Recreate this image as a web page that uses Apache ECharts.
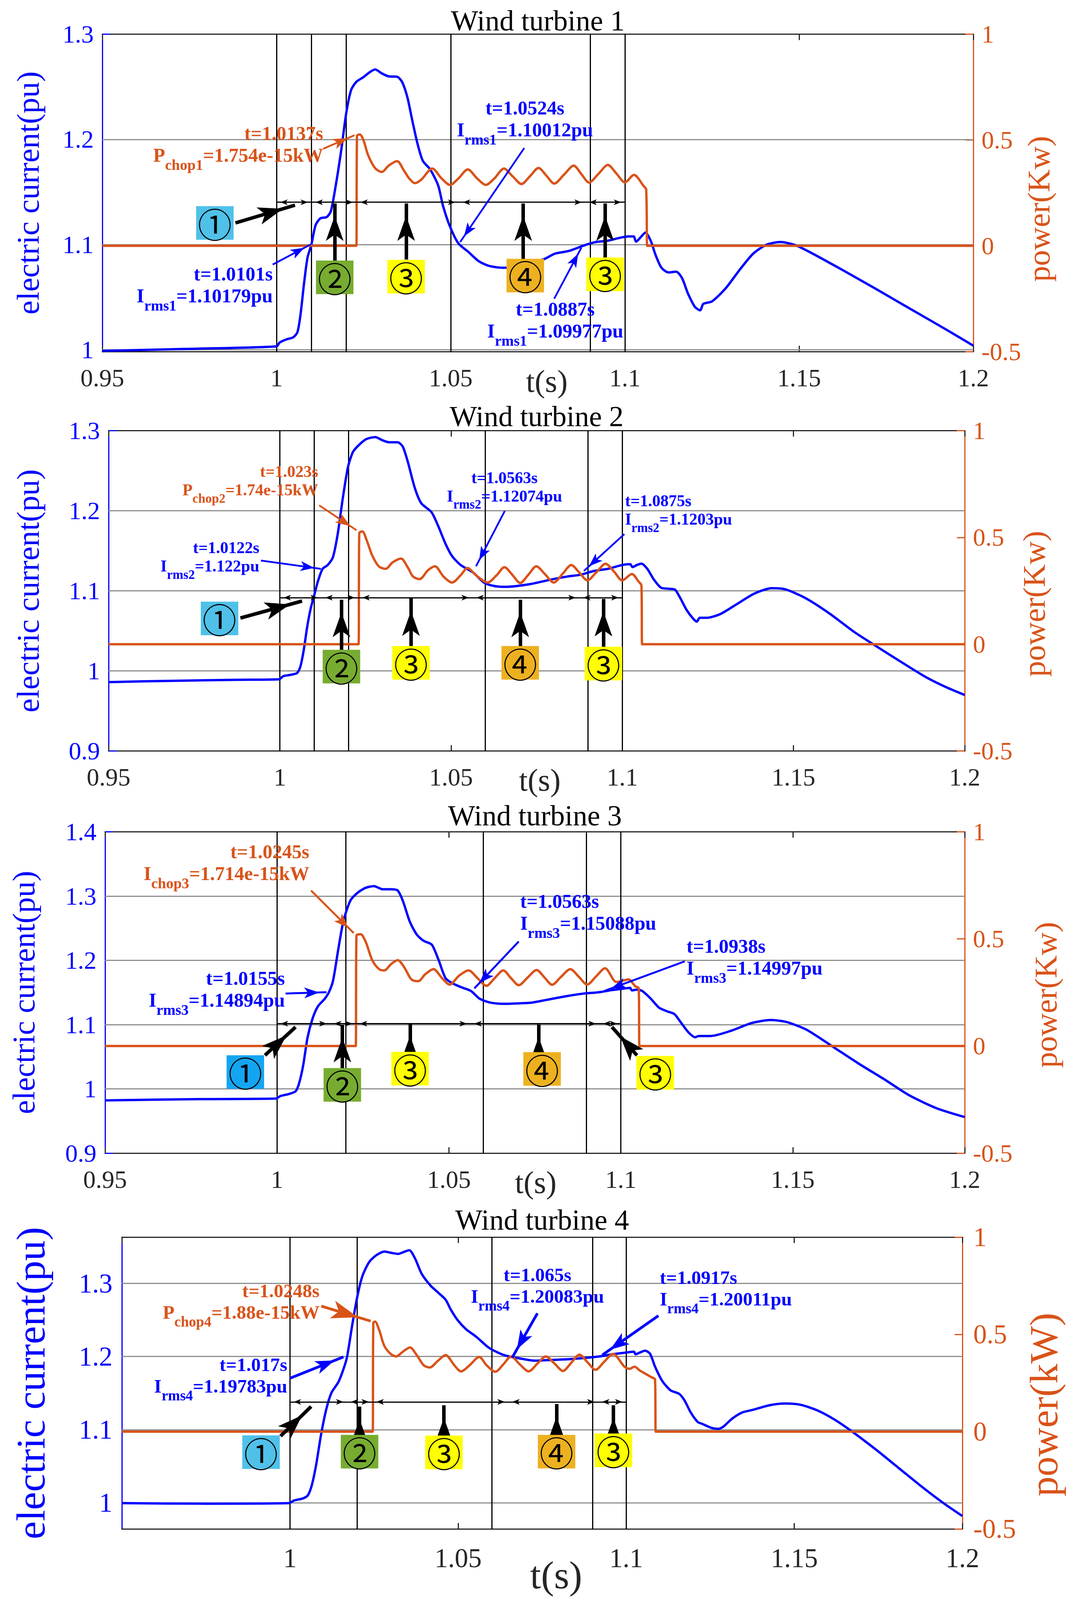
<!DOCTYPE html>
<html>
<head>
<meta charset="utf-8">
<title>Wind turbines</title>
<script src="https://cdn.jsdelivr.net/npm/echarts@6.0.0/dist/echarts.min.js"></script>
<style>
html,body{margin:0;padding:0;background:#ffffff;overflow:hidden;}
#chart{width:2737px;height:5428px;}
</style>
</head>
<body>
<div id="chart"></div>
<script>
// ================= DATA =================
const timeTicks = [0.95, 1, 1.05, 1.1, 1.15, 1.2];
const timeTicksWT4 = [1, 1.05, 1.1, 1.15, 1.2];
const powerTicks = [-0.5, 0, 0.5, 1];
const currentTicksWT1 = [1, 1.1, 1.2, 1.3];
const currentTicksWT2 = [0.9, 1, 1.1, 1.2, 1.3];
const currentTicksWT3 = [0.9, 1, 1.1, 1.2, 1.3, 1.4];
const currentTicksWT4 = [1, 1.1, 1.2, 1.3];

const panelTitles = ['Wind turbine 1', 'Wind turbine 2', 'Wind turbine 3', 'Wind turbine 4'];

// phase boundary instants (s)
const wt1Phases = [1.0, 1.0101, 1.023, 1.0524, 1.0887, 1.1];
const wt2Phases = [1.0, 1.0122, 1.023, 1.0563, 1.0875, 1.1];
const wt3Phases = [1.0, 1.0155, 1.023, 1.0563, 1.0938, 1.1];
const wt4Phases = [1.0, 1.017, 1.0246, 1.065, 1.0917, 1.1];

// rotor current (pu) : [t, I]
const wt1Current = [[0.95,0.999],[0.975,1.001],[1.0,1.0033],[1.0009,1.007],[1.0028,1.0099],[1.0048,1.0119],[1.006,1.0168],[1.0069,1.0339],[1.0079,1.0633],[1.0089,1.0878],[1.01,1.1],[1.0112,1.1184],[1.0126,1.125],[1.0144,1.1262],[1.0156,1.1318],[1.017,1.1563],[1.0185,1.1881],[1.02,1.2248],[1.0214,1.2469],[1.0229,1.2547],[1.0249,1.2591],[1.0268,1.264],[1.0283,1.2665],[1.0302,1.2628],[1.0322,1.2599],[1.0346,1.2596],[1.0361,1.2542],[1.0376,1.2395],[1.039,1.2175],[1.0405,1.1955],[1.042,1.1796],[1.0441,1.1715],[1.0464,1.1563],[1.0478,1.1367],[1.0498,1.1171],[1.0522,1.1012],[1.0552,1.0927],[1.0581,1.0841],[1.0611,1.0797],[1.065,1.078],[1.0705,1.0795],[1.074,1.0835],[1.077,1.0865],[1.0799,1.0914],[1.0838,1.0939],[1.0885,1.0995],[1.0917,1.1025],[1.0951,1.1037],[1.098,1.1061],[1.101,1.1078],[1.1025,1.1078],[1.1032,1.1029],[1.1046,1.1073],[1.1059,1.1115],[1.1074,1.1037],[1.1088,1.0902],[1.1105,1.078],[1.1125,1.0736],[1.1147,1.0743],[1.1164,1.0682],[1.1181,1.0535],[1.1201,1.0408],[1.1216,1.0376],[1.1225,1.0437],[1.125,1.0461],[1.1289,1.0584],[1.1328,1.0755],[1.1368,1.0914],[1.1407,1.1],[1.1446,1.1025],[1.1485,1.1],[1.1525,1.0939],[1.1623,1.0762],[1.1721,1.0578],[1.1819,1.039],[1.1917,1.0203],[1.2,1.004]];
const wt2Current = [[0.95,0.9861],[0.9681,0.9877],[0.988,0.989],[0.9998,0.9896],[1.001,0.9935],[1.003,0.9951],[1.005,0.9973],[1.006,1.0054],[1.007,1.0263],[1.008,1.0552],[1.009,1.0777],[1.01,1.0937],[1.0112,1.113],[1.0125,1.1275],[1.014,1.1323],[1.0155,1.1419],[1.0169,1.1708],[1.0184,1.2158],[1.0199,1.2544],[1.0214,1.2737],[1.0234,1.2833],[1.0254,1.2897],[1.0279,1.292],[1.0299,1.2881],[1.0319,1.2855],[1.0344,1.2855],[1.0359,1.2801],[1.0374,1.2608],[1.0394,1.2287],[1.0413,1.2094],[1.0443,1.1982],[1.0463,1.1805],[1.0483,1.1596],[1.0503,1.1435],[1.0528,1.1323],[1.0565,1.1227],[1.0598,1.1098],[1.0628,1.1059],[1.0658,1.105],[1.0728,1.1082],[1.0798,1.1146],[1.0838,1.1178],[1.0878,1.1201],[1.0918,1.1249],[1.0958,1.1275],[1.1,1.1323],[1.1023,1.1333],[1.103,1.1297],[1.1043,1.1323],[1.1056,1.1339],[1.1073,1.1275],[1.1093,1.1137],[1.1113,1.104],[1.1133,1.1027],[1.1153,1.1018],[1.1168,1.0921],[1.1188,1.0761],[1.1208,1.0648],[1.1218,1.0616],[1.1226,1.0664],[1.1248,1.0664],[1.1287,1.0712],[1.1337,1.0841],[1.1387,1.0969],[1.1437,1.1033],[1.1477,1.1018],[1.1537,1.0905],[1.1607,1.0712],[1.1677,1.0488],[1.1747,1.0295],[1.1816,1.0108],[1.1886,0.9925],[1.1946,0.9797],[1.2,0.97]];
const wt3Current = [[0.95,0.9821],[0.9787,0.9841],[0.9997,0.9849],[1.001,0.9889],[1.0035,0.9921],[1.0054,0.9962],[1.0064,1.0082],[1.0076,1.0362],[1.0089,1.0803],[1.0104,1.1103],[1.0119,1.1284],[1.0139,1.1404],[1.0151,1.1504],[1.0163,1.1684],[1.0178,1.2165],[1.0193,1.2606],[1.0213,1.2926],[1.0233,1.3046],[1.0257,1.3127],[1.0282,1.3155],[1.0307,1.3107],[1.0332,1.3107],[1.0351,1.3087],[1.0366,1.2926],[1.0386,1.2606],[1.0406,1.2405],[1.0426,1.2305],[1.045,1.2245],[1.047,1.2005],[1.049,1.1724],[1.051,1.1644],[1.0535,1.1584],[1.0564,1.1524],[1.0589,1.1404],[1.0619,1.1344],[1.0658,1.1324],[1.0708,1.1332],[1.0743,1.1344],[1.0783,1.1384],[1.0843,1.1444],[1.0893,1.1484],[1.0937,1.1504],[1.0972,1.1536],[1.1012,1.1564],[1.1027,1.1572],[1.1032,1.1532],[1.1047,1.1544],[1.1062,1.1524],[1.1087,1.1404],[1.1111,1.1264],[1.1136,1.1204],[1.1156,1.1163],[1.1176,1.1023],[1.1196,1.0883],[1.1216,1.0803],[1.1226,1.0823],[1.1261,1.0823],[1.132,1.0903],[1.138,1.1023],[1.1435,1.1071],[1.148,1.1043],[1.1539,1.0923],[1.1609,1.0683],[1.1689,1.0402],[1.1768,1.0142],[1.1838,0.9902],[1.1917,0.9701],[1.2,0.9561]];
const wt4Current = [[0.95,0.9993],[0.9748,0.9986],[0.9997,0.9993],[1.0012,1.0029],[1.0038,1.0057],[1.0053,1.0099],[1.0065,1.024],[1.0078,1.0522],[1.0093,1.0945],[1.0109,1.1297],[1.0124,1.1509],[1.0144,1.165],[1.0159,1.1826],[1.017,1.2],[1.0185,1.2425],[1.02,1.2813],[1.0215,1.3095],[1.0235,1.3289],[1.0256,1.3384],[1.0281,1.3437],[1.0301,1.3419],[1.0322,1.3405],[1.0342,1.3437],[1.0355,1.3455],[1.0372,1.3342],[1.0392,1.313],[1.0418,1.2972],[1.0443,1.2866],[1.0463,1.2778],[1.0479,1.2637],[1.0499,1.2496],[1.0524,1.2373],[1.0555,1.2267],[1.059,1.2126],[1.0626,1.2039],[1.0653,1.2],[1.0692,1.1967],[1.0727,1.1943],[1.0777,1.1953],[1.0838,1.1967],[1.0888,1.1985],[1.0922,1.2002],[1.0959,1.2031],[1.1,1.2055],[1.1023,1.2066],[1.1028,1.2031],[1.1041,1.2055],[1.1056,1.208],[1.1071,1.2038],[1.1086,1.1861],[1.1107,1.1668],[1.1132,1.1537],[1.1157,1.1491],[1.1173,1.1403],[1.1193,1.1227],[1.1213,1.1104],[1.1226,1.1079],[1.1254,1.1023],[1.1274,1.1009],[1.1289,1.104],[1.1315,1.1149],[1.1345,1.1234],[1.1376,1.1269],[1.1426,1.1333],[1.1472,1.1357],[1.1518,1.134],[1.1569,1.1262],[1.1619,1.1139],[1.167,1.098],[1.1741,1.0733],[1.1812,1.0469],[1.1883,1.0205],[1.1944,0.9993],[1.2,0.9817]];

// chopper power (kW) : [t, P]
const wt1Power = [[0.95,0],[1.0225,0],[1.0229,0],[1.0231,0.52],[1.0239,0.526],[1.0249,0.502],[1.0263,0.428],[1.0283,0.367],[1.0302,0.349],[1.0322,0.379],[1.0346,0.4],[1.0366,0.355],[1.0381,0.318],[1.0397,0.296],[1.0415,0.312],[1.0447,0.365],[1.0474,0.318],[1.0498,0.288],[1.0522,0.318],[1.0549,0.361],[1.0576,0.318],[1.0601,0.288],[1.0625,0.318],[1.0653,0.365],[1.0678,0.328],[1.0703,0.292],[1.0728,0.33],[1.0752,0.368],[1.0775,0.331],[1.0797,0.294],[1.0825,0.336],[1.0853,0.379],[1.0875,0.339],[1.0897,0.299],[1.0924,0.34],[1.0951,0.382],[1.0976,0.341],[1.1,0.3],[1.1026,0.335],[1.1054,0.282],[1.1061,0.267],[1.1064,0],[1.1068,0],[1.2,0]];
const wt2Power = [[0.95,0],[1.0226,0],[1.023,0],[1.0232,0.52],[1.0241,0.528],[1.0254,0.486],[1.0269,0.419],[1.0289,0.365],[1.0309,0.353],[1.0329,0.383],[1.0354,0.401],[1.0374,0.359],[1.0389,0.317],[1.0408,0.305],[1.0433,0.347],[1.0453,0.365],[1.0478,0.317],[1.0503,0.289],[1.0528,0.323],[1.0548,0.357],[1.0573,0.323],[1.0607,0.289],[1.0633,0.323],[1.0656,0.361],[1.0679,0.325],[1.0702,0.287],[1.0726,0.326],[1.0749,0.365],[1.0775,0.327],[1.08,0.289],[1.0826,0.33],[1.0851,0.371],[1.0875,0.335],[1.0898,0.299],[1.0925,0.338],[1.0951,0.377],[1.0976,0.34],[1.1,0.299],[1.1028,0.329],[1.1048,0.293],[1.1056,0.275],[1.1058,0],[1.1062,0],[1.2,0]];
const wt3Power = [[0.95,0],[1.0225,0],[1.0229,0],[1.0231,0.515],[1.0243,0.522],[1.0258,0.486],[1.0277,0.401],[1.0297,0.359],[1.0312,0.353],[1.0332,0.383],[1.0351,0.401],[1.0371,0.365],[1.0391,0.311],[1.0411,0.303],[1.0431,0.335],[1.0455,0.359],[1.048,0.317],[1.0502,0.287],[1.053,0.329],[1.0557,0.353],[1.0583,0.317],[1.0609,0.281],[1.0633,0.317],[1.0658,0.353],[1.068,0.318],[1.0703,0.284],[1.0729,0.32],[1.0755,0.355],[1.0778,0.32],[1.08,0.286],[1.0826,0.323],[1.0853,0.359],[1.0878,0.323],[1.0902,0.287],[1.0928,0.325],[1.0954,0.363],[1.0987,0.299],[1.1005,0.305],[1.1022,0.311],[1.1042,0.279],[1.1052,0.27],[1.1054,0],[1.1058,0],[1.2,0]];
const wt4Power = [[0.95,0],[1.0242,0],[1.0246,0],[1.0248,0.56],[1.0253,0.566],[1.0266,0.519],[1.0281,0.44],[1.0301,0.398],[1.0316,0.387],[1.0337,0.413],[1.0357,0.433],[1.0377,0.394],[1.0398,0.341],[1.0416,0.33],[1.0438,0.361],[1.0463,0.394],[1.0489,0.341],[1.0509,0.31],[1.0534,0.341],[1.0563,0.384],[1.0585,0.341],[1.0611,0.308],[1.0634,0.345],[1.0658,0.387],[1.0684,0.345],[1.071,0.31],[1.0736,0.35],[1.0761,0.387],[1.0787,0.35],[1.0812,0.312],[1.0837,0.355],[1.0861,0.396],[1.0885,0.357],[1.0909,0.318],[1.0935,0.36],[1.0961,0.4],[1.0995,0.334],[1.101,0.323],[1.1025,0.334],[1.1041,0.314],[1.1061,0.294],[1.1075,0.28],[1.1086,0.268],[1.1088,0],[1.1092,0],[1.2,0]];

// annotation texts (two lines each; anchored in data units of the current axis)
const wt1Notes = [
 {c:'o', a:'right', t:1.0134, i:[1.2035,1.1850], l1:'t=1.0137s', m:'P', sub:'chop1', s:'=1.754e-15kW'},
 {c:'b', a:'right', t:0.9989, i:[1.0706,1.0510], l1:'t=1.0101s', m:'I', sub:'rms1', s:'=1.10179pu'},
 {c:'b', a:'center', t:1.0713, i:[1.2285,1.2089], l1:'t=1.0524s', m:'I', sub:'rms1', s:'=1.10012pu'},
 {c:'b', a:'center', t:1.0800, i:[1.0364,1.0180], l1:'t=1.0887s', m:'I', sub:'rms1', s:'=1.09977pu'}
];
const wt2Notes = [
 {c:'o', a:'right', t:1.0112, i:[1.2470,1.2255], l1:'t=1.023s', m:'P', sub:'chop2', s:'=1.74e-15kW'},
 {c:'b', a:'right', t:0.9940, i:[1.1516,1.1307], l1:'t=1.0122s', m:'I', sub:'rms2', s:'=1.122pu'},
 {c:'b', a:'center', t:1.0656, i:[1.2399,1.2174], l1:'t=1.0563s', m:'I', sub:'rms2', s:'=1.12074pu'},
 {c:'b', a:'left', t:1.1008, i:[1.2110,1.1885], l1:'t=1.0875s', m:'I', sub:'rms2', s:'=1.1203pu'}
];
const wt3Notes = [
 {c:'o', a:'right', t:1.0094, i:[1.3667,1.3347], l1:'t=1.0245s', m:'I', sub:'chop3', s:'=1.714e-15kW'},
 {c:'b', a:'right', t:1.0023, i:[1.1684,1.1384], l1:'t=1.0155s', m:'I', sub:'rms3', s:'=1.14894pu'},
 {c:'b', a:'left', t:1.0707, i:[1.2886,1.2574], l1:'t=1.0563s', m:'I', sub:'rms3', s:'=1.15088pu'},
 {c:'b', a:'left', t:1.1191, i:[1.2185,1.1877], l1:'t=1.0938s', m:'I', sub:'rms3', s:'=1.14997pu'}
];
const wt4Notes = [
 {c:'o', a:'right', t:1.0088, i:[1.2866,1.2602], l1:'t=1.0248s', m:'P', sub:'chop4', s:'=1.88e-15kW'},
 {c:'b', a:'right', t:0.9992, i:[1.1854,1.1597], l1:'t=1.017s', m:'I', sub:'rms4', s:'=1.19783pu'},
 {c:'b', a:'center', t:1.0736, i:[1.3078,1.2831], l1:'t=1.065s', m:'I', sub:'rms4', s:'=1.20083pu'},
 {c:'b', a:'left', t:1.1100, i:[1.3053,1.2785], l1:'t=1.0917s', m:'I', sub:'rms4', s:'=1.20011pu'}
];

// pointer arrows of the annotations [t, I]
const wt1Pointers = [
 {c:'o', from:[1.0134,1.1911], to:[1.0224,1.2040]},
 {c:'b', from:[0.9989,1.0811], to:[1.0097,1.1000]},
 {c:'b', from:[1.0711,1.1918], to:[1.0527,1.1024]},
 {c:'b', from:[1.0797,1.0486], to:[1.0875,1.0971]}
];
const wt2Pointers = [
 {c:'o', from:[1.0115,1.2068], to:[1.0224,1.1757]},
 {c:'b', from:[0.9945,1.1378], to:[1.0120,1.1275]},
 {c:'b', from:[1.0657,1.1998], to:[1.0573,1.1307]},
 {c:'b', from:[1.1006,1.1708], to:[1.0888,1.1249]}
];
const wt3Pointers = [
 {c:'o', from:[1.0099,1.3087], to:[1.0223,1.2425]},
 {c:'b', from:[1.0025,1.1484], to:[1.0144,1.1504]},
 {c:'b', from:[1.0703,1.2293], to:[1.0574,1.1564]},
 {c:'b', from:[1.1186,1.1985], to:[1.0952,1.1524]}
];
const wt4Pointers = [
 {c:'o', from:[1.0093,1.2690], to:[1.0240,1.2485]},
 {c:'b', from:[1.0000,1.1703], to:[1.0159,1.1995]},
 {c:'b', from:[1.0736,1.2592], to:[1.0661,1.1985]},
 {c:'b', from:[1.1096,1.2559], to:[1.0929,1.2020]}
];

// stage boxes
const wt1Stages = [
 {n:'①', c:'#4FC1E9', at:[0.9823,1.1206], from:[0.9882,1.1206], to:[1.0053,1.1375]},
 {n:'②', c:'#77AC30', at:[1.0167,1.0689], from:[1.0167,1.0848], to:[1.0167,1.1392]},
 {n:'③', c:'#FFFF00', at:[1.0372,1.0696], from:[1.0372,1.0858], to:[1.0372,1.1392]},
 {n:'④', c:'#EDB120', at:[1.0714,1.0706], from:[1.0708,1.0848], to:[1.0708,1.1392]},
 {n:'③', c:'#FFFF00', at:[1.0943,1.0718], from:[1.0943,1.0878], to:[1.0943,1.1392]}
];
const wt2Stages = [
 {n:'①', c:'#4FC1E9', at:[0.9824,1.0655], from:[0.9885,1.0661], to:[1.0065,1.0873]},
 {n:'②', c:'#77AC30', at:[1.0180,1.0054], from:[1.0180,1.0263], to:[1.0180,1.0889]},
 {n:'③', c:'#FFFF00', at:[1.0383,1.0102], from:[1.0383,1.0311], to:[1.0383,1.0905]},
 {n:'④', c:'#EDB120', at:[1.0702,1.0102], from:[1.0702,1.0311], to:[1.0702,1.0889]},
 {n:'③', c:'#FFFF00', at:[1.0945,1.0092], from:[1.0945,1.0301], to:[1.0945,1.0899]}
];
const wt3Stages = [
 {n:'①', c:'#14A5F2', at:[0.9908,1.0262], from:[0.9965,1.0522], to:[1.0054,1.0963]},
 {n:'②', c:'#77AC30', at:[1.0190,1.0062], from:[1.0190,1.0322], to:[1.0190,1.0995]},
 {n:'③', c:'#FFFF00', at:[1.0387,1.0314], from:[1.0387,1.0582], to:[1.0387,1.1023]},
 {n:'④', c:'#EDB120', at:[1.0771,1.0310], from:[1.0761,1.0582], to:[1.0761,1.1003]},
 {n:'③', c:'#FFFF00', at:[1.1100,1.0250], from:[1.1047,1.0522], to:[1.0974,1.0963]}
];
const wt4Stages = [
 {n:'①', c:'#4FC1E9', at:[0.9914,1.0691], from:[0.9972,1.0910], to:[1.0063,1.1315]},
 {n:'②', c:'#77AC30', at:[1.0207,1.0698], from:[1.0207,1.0927], to:[1.0207,1.1315]},
 {n:'③', c:'#FFFF00', at:[1.0458,1.0688], from:[1.0458,1.0910], to:[1.0458,1.1333]},
 {n:'④', c:'#EDB120', at:[1.0793,1.0698], from:[1.0793,1.0927], to:[1.0793,1.1350]},
 {n:'③', c:'#FFFF00', at:[1.0962,1.0716], from:[1.0962,1.0945], to:[1.0962,1.1333]}
];
const stageSpanLevel = [1.1403, 1.0915, 1.1015, 1.1379];

// ================= STYLE / LAYOUT =================
const BLUE = '#0000FF', ORANGE = '#D95319', INK = '#262626', GRIDC = '#8f8f8f';
const SERIF = '"Liberation Serif", "Times New Roman", serif';
const fmt = v => String(parseFloat(Number(v).toFixed(3)));

// layout designed for a 2737 x 5428 page; a shorter viewport compresses it vertically
const PAGE_W = 2737, PAGE_H = 5428;
const VIEW_H = window.innerHeight || PAGE_H;
const SY = Math.min(1, VIEW_H / PAGE_H);
const SF = Math.sqrt(SY);
const SR = Math.pow(SY, 0.75);
const Y = v => v * SY;                 // vertical distances
const F = v => Math.round(v * SF);     // font / symbol sizes
const R = v => Math.round(v * SR);     // fonts of texts laid out vertically

const panels = [
 {box:[262,116,2230,1077], titleY:70, cur:wt1Current, pow:wt1Power, yMin:0.9983, yMax:1.3, yTicks:currentTicksWT1, yGrid:[1,1.1,1.2], xTicks:timeTicks,
  phases:wt1Phases, notes:wt1Notes, pointers:wt1Pointers, stages:wt1Stages, rightName:'power(Kw)',
  tickFont:74, nameFont:100, rNameFont:100, xNameFont:92, leftGap:140, rightGap:118, rightShift:54, xGap:48, xShift:23, xMargin:35, yMargin:22, rMargin:21, noteFont:58, subFont:44, ptrW:4.5, ptrHead:[22,40], oHead:[24,44]},
 {box:[278,1461,2192,1087], titleY:1412, cur:wt2Current, pow:wt2Power, yMin:0.9, yMax:1.3, yTicks:currentTicksWT2, yGrid:[1,1.1,1.2], xTicks:timeTicks,
  phases:wt2Phases, notes:wt2Notes, pointers:wt2Pointers, stages:wt2Stages, rightName:'power(Kw)',
  tickFont:74, nameFont:100, rNameFont:100, xNameFont:92, leftGap:156, rightGap:128, rightShift:44, xGap:46, xShift:8, xMargin:35, yMargin:22, rMargin:21, noteFont:48, subFont:38, ptrW:4.5, ptrHead:[22,40], oHead:[24,44]},
 {box:[269,2822,2201,1090], titleY:2767, cur:wt3Current, pow:wt3Power, yMin:0.9, yMax:1.4, yTicks:currentTicksWT3, yGrid:[1,1.1,1.2,1.3], xTicks:timeTicks,
  phases:wt3Phases, notes:wt3Notes, pointers:wt3Pointers, stages:wt3Stages, rightName:'power(Kw)',
  tickFont:74, nameFont:100, rNameFont:100, xNameFont:92, leftGap:158, rightGap:158, rightShift:8, xGap:47, xShift:2, xMargin:35, yMargin:22, rMargin:21, noteFont:58, subFont:44, ptrW:5, ptrHead:[24,44], oHead:[24,44]},
 {box:[312,4197,2152,990], titleY:4139, cur:wt4Current, pow:wt4Power, yMin:0.964, yMax:1.3634, yTicks:currentTicksWT4, yGrid:[1,1.1,1.2,1.3], xTicks:timeTicksWT4,
  phases:wt4Phases, notes:wt4Notes, pointers:wt4Pointers, stages:wt4Stages, rightName:'power(kW)',
  tickFont:80, nameFont:128, rNameFont:126, xNameFont:115, leftGap:170, rightGap:145, rightShift:73, xGap:90, xShift:36, xMargin:40, yMargin:24, rMargin:28, noteFont:56, subFont:43, ptrW:7, ptrHead:[30,56], oHead:[40,78]}
];

// ================= BUILD =================
const el = document.getElementById('chart');
const CH = Math.floor(PAGE_H * SY);
el.style.height = CH + 'px';
const chart = echarts.init(el, null, {renderer:'svg', width:PAGE_W, height:CH});
const option = {animation:false, backgroundColor:'#ffffff', textStyle:{fontFamily:SERIF},
  graphic:[], grid:[], xAxis:[], yAxis:[], series:[]};

function axisLine(c){ return {show:true, onZero:false, lineStyle:{color:c, width:3}}; }
function carrier(k, z, extra){
  return Object.assign({type:'line', xAxisIndex:2*k, yAxisIndex:2*k, data:[], silent:true, z:z, showSymbol:false}, extra);
}
// one arrow item for markLine: tip exactly at "to"
function arrowItem(from, to, head0, both){
  const head = [F(head0[0]), F(head0[1])];
  const end = {coord:to, symbol:'arrow', symbolSize:head, symbolOffset:[0, head[1]/2], symbolKeepAspect:false};
  const start = both ? {coord:from, symbol:'arrow', symbolSize:head, symbolOffset:[0, head[1]/2], symbolKeepAspect:false}
                     : {coord:from, symbol:'none'};
  return [start, end];
}
// two-line annotation, centred vertically between its two reference lines
function noteItem(n, p){
  const color = n.c === 'o' ? ORANGE : BLUE;
  const fm = F(p.noteFont), fs = F(p.subFont);
  const lh = Math.round(fm * 1.12);
  const m = {fontSize:fm, fontWeight:'bold', fontFamily:SERIF, color:color, lineHeight:lh, verticalAlign:'top'};
  const s = {fontSize:fs, fontWeight:'bold', fontFamily:SERIF, color:color, lineHeight:Math.round(fs*1.05), verticalAlign:'top', padding:[Math.round(fm*0.62),0,0,0]};
  const text = '{m|' + n.l1 + '}\n{m|' + n.m + '}{s|' + n.sub + '}{m|' + n.s + '}';
  return {coord:[n.t, (n.i[0] + n.i[1]) / 2], symbol:'circle', symbolSize:0,
    label:{show:true, position:'inside', formatter:text, rich:{m:m, s:s}, align:n.a, verticalAlign:'top', offset:[0, -lh]}};
}

panels.forEach(function(p, k){
  const gl = p.box[0], gt = Y(p.box[1]), gw = p.box[2], gh = Y(p.box[3]);
  option.grid.push({left:gl, top:gt, width:gw, height:gh, outerBoundsMode:'none', containLabel:false});
  option.graphic.push({type:'text', x:gl + gw/2, y:Y(p.titleY), silent:true,
    style:{text:panelTitles[k], fontSize:R(92), fontFamily:SERIF, fill:'#000000', align:'center', verticalAlign:'middle', textAlign:'center', textVerticalAlign:'middle'}});

  option.xAxis.push({gridIndex:k, type:'value', min:0.95, max:1.2, position:'bottom',
    axisLine:axisLine(INK),
    axisTick:{show:true, inside:true, length:Y(20), customValues:p.xTicks, lineStyle:{color:INK, width:3}},
    axisLabel:{show:true, customValues:p.xTicks, formatter:fmt, color:INK, fontFamily:SERIF, fontSize:F(p.tickFont), margin:p.xMargin},
    splitLine:{show:false},
    name:'t(s)', nameLocation:'middle', nameGap:Y(p.xGap), nameMoveOverlap:false,
    nameTextStyle:{color:INK, fontFamily:SERIF, fontSize:F(p.xNameFont), padding:[0,0,0,2*p.xShift]}});
  option.xAxis.push({gridIndex:k, type:'value', min:0.95, max:1.2, position:'top',
    axisLine:axisLine(INK),
    axisTick:{show:true, inside:true, length:Y(20), customValues:timeTicks, lineStyle:{color:INK, width:3}},
    axisLabel:{show:false}, splitLine:{show:false}});

  const lf = R(p.nameFont), rf = R(p.rNameFont);
  option.yAxis.push({gridIndex:k, type:'value', min:p.yMin, max:p.yMax, position:'left',
    axisLine:axisLine(BLUE),
    axisTick:{show:true, inside:true, length:20, customValues:p.yTicks, lineStyle:{color:BLUE, width:3}},
    axisLabel:{show:true, customValues:p.yTicks, formatter:fmt, color:BLUE, fontFamily:SERIF, fontSize:F(p.tickFont), margin:p.yMargin},
    splitLine:{show:false},
    name:'electric current(pu)', nameLocation:'middle', nameRotate:90, nameGap:p.leftGap + (p.nameFont - lf)/2, nameMoveOverlap:false,
    nameTextStyle:{color:BLUE, fontFamily:SERIF, fontSize:lf}});
  option.yAxis.push({gridIndex:k, type:'value', min:-0.5, max:1, interval:0.5, position:'right',
    axisLine:axisLine(ORANGE),
    axisTick:{show:true, inside:true, length:20, customValues:powerTicks, lineStyle:{color:ORANGE, width:3}},
    axisLabel:{show:true, customValues:powerTicks, formatter:fmt, color:ORANGE, fontFamily:SERIF, fontSize:F(p.tickFont), margin:p.rMargin},
    splitLine:{show:false},
    name:p.rightName, nameLocation:'middle', nameRotate:90, nameGap:p.rightGap + (p.rNameFont - rf)/2, nameMoveOverlap:false,
    nameTextStyle:{color:ORANGE, fontFamily:SERIF, fontSize:rf, padding:[0, 2*Y(p.rightShift), 0, 0]}});

  // grid lines
  option.series.push(carrier(k, 1, {markLine:{silent:true, z:1, symbol:['none','none'], label:{show:false},
    lineStyle:{color:GRIDC, width:3, type:'solid'}, emphasis:{disabled:true},
    data:p.yGrid.map(v => ({yAxis:v}))}}));
  // phase boundaries
  option.series.push(carrier(k, 2, {markLine:{silent:true, z:2, symbol:['none','none'], label:{show:false},
    lineStyle:{color:'#000000', width:3, type:'solid'}, emphasis:{disabled:true},
    data:p.phases.map(v => ({xAxis:v}))}}));

  // curves
  option.series.push({type:'line', name:'current', xAxisIndex:2*k, yAxisIndex:2*k, data:p.cur, showSymbol:false, symbol:'none',
    smooth:0.25, lineStyle:{color:BLUE, width:6}, itemStyle:{color:BLUE}, z:3, silent:true});
  option.series.push({type:'line', name:'power', xAxisIndex:2*k, yAxisIndex:2*k+1, data:p.pow, showSymbol:false, symbol:'none',
    smooth:0.3, lineStyle:{color:ORANGE, width:6}, itemStyle:{color:ORANGE}, z:4, silent:true});

  // stage spans (double-headed arrows)
  const lvl = stageSpanLevel[k];
  const spans = [];
  for (let j = 0; j < p.phases.length - 1; j++) spans.push(arrowItem([p.phases[j], lvl], [p.phases[j+1], lvl], [13,22], true));
  option.series.push(carrier(k, 5, {markLine:{silent:true, z:5, symbol:['none','none'], label:{show:false},
    lineStyle:{color:'#000000', width:3, type:'solid'}, itemStyle:{color:'#000000'}, emphasis:{disabled:true}, data:spans}}));

  // thick stage arrows
  option.series.push(carrier(k, 6, {markLine:{silent:true, z:6, symbol:['none','none'], label:{show:false},
    lineStyle:{color:'#000000', width:9, type:'solid'}, itemStyle:{color:'#000000'}, emphasis:{disabled:true},
    data:p.stages.map(s => arrowItem(s.from, s.to, [39,74], false))}}));

  // stage boxes
  option.series.push(carrier(k, 7, {markPoint:{silent:true, z:7, emphasis:{disabled:true},
    data:p.stages.map(s => ({coord:s.at, symbol:'rect', symbolSize:[F(110), Y(114)], itemStyle:{color:s.c},
      label:{show:true, position:'inside', formatter:s.n, color:'#000000', fontFamily:'"Noto Sans CJK JP", "DejaVu Sans"', fontSize:F(100), align:'center', verticalAlign:'middle'}}))}}));

  // pointer arrows
  ['b','o'].forEach(function(cc){
    const col = cc === 'o' ? ORANGE : BLUE;
    const head = cc === 'o' ? p.oHead : p.ptrHead;
    option.series.push(carrier(k, 8, {markLine:{silent:true, z:8, symbol:['none','none'], label:{show:false},
      lineStyle:{color:col, width:p.ptrW, type:'solid'}, itemStyle:{color:col}, emphasis:{disabled:true},
      data:p.pointers.filter(a => a.c === cc).map(a => arrowItem(a.from, a.to, head, false))}}));
  });

  // annotation texts
  option.series.push(carrier(k, 9, {markPoint:{silent:true, z:9, emphasis:{disabled:true},
    data:p.notes.map(n => noteItem(n, p))}}));
});

chart.setOption(option);
</script>
</body>
</html>
